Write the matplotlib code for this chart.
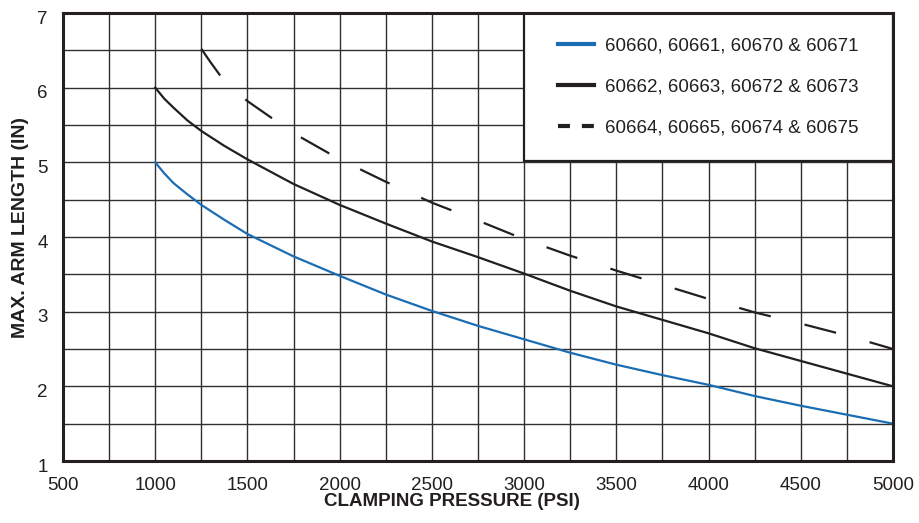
import matplotlib
matplotlib.use("Agg")
import matplotlib.pyplot as plt
import matplotlib.transforms as mtransforms
from matplotlib.lines import Line2D
from matplotlib.patches import Rectangle

plt.rcParams['font.family'] = ['Liberation Sans', 'DejaVu Sans']
plt.rcParams['lines.scale_dashes'] = False

# Data
blue_x = [1000, 1050, 1100, 1175, 1250, 1375, 1500, 1750, 2000, 2250, 2500, 2750, 3000, 3250, 3500, 3750, 4000, 4250, 4500, 4750, 5000]
blue_y = [5.00, 4.85, 4.72, 4.57, 4.43, 4.23, 4.04, 3.74, 3.48, 3.23, 3.01, 2.81, 2.63, 2.45, 2.29, 2.15, 2.02, 1.87, 1.74, 1.62, 1.50]

black_x = [1000, 1050, 1100, 1175, 1250, 1375, 1500, 1750, 2000, 2250, 2500, 2750, 3000, 3250, 3500, 3750, 4000, 4250, 4500, 4750, 5000]
black_y = [6.00, 5.85, 5.73, 5.56, 5.42, 5.22, 5.04, 4.71, 4.43, 4.18, 3.94, 3.73, 3.51, 3.28, 3.07, 2.89, 2.71, 2.51, 2.34, 2.17, 2.00]

dash_x = [1250, 1300, 1350, 1425, 1500, 1750, 2000, 2250, 2500, 2750, 3000, 3250, 3500, 3750, 4000, 4250, 4500, 4750, 5000]
dash_y = [6.52, 6.34, 6.17, 5.98, 5.82, 5.39, 5.04, 4.74, 4.46, 4.22, 3.97, 3.75, 3.55, 3.36, 3.17, 2.99, 2.84, 2.68, 2.50]

labels = ["60660, 60661, 60670 & 60671",
          "60662, 60663, 60672 & 60673",
          "60664, 60665, 60674 & 60675"]

x_ticks = [500, 1000, 1500, 2000, 2500, 3000, 3500, 4000, 4500, 5000]
y_ticks = [1, 2, 3, 4, 5, 6, 7]
x_label = "CLAMPING PRESSURE (PSI)"
y_label = "MAX. ARM LENGTH (IN)"

BLUE = '#1b6db3'
BLACK = '#231f20'
GRID = '#303030'
FS = 13.5

fig = plt.figure(figsize=(9.2, 5.23), dpi=100)
ax = fig.add_axes([63/920, 62/523, 830/920, 448/523])

ax.set_xlim(500, 5000)
ax.set_ylim(1, 7)

# grid every 250 psi and 0.5 in
ax.set_xticks(x_ticks)
ax.set_yticks(y_ticks)
ax.set_xticks([v + 250 for v in x_ticks[:-1]], minor=True)
ax.set_yticks([v + 0.5 for v in y_ticks[:-1]], minor=True)
ax.grid(True, which='both', color=GRID, linewidth=1.0, zorder=1)
ax.set_axisbelow(True)
ax.tick_params(which='both', length=0)
ax.tick_params(axis='x', pad=11.5, labelsize=FS, colors='#231f20')
ax.tick_params(axis='y', pad=11, labelsize=FS, colors='#231f20')

offset = mtransforms.ScaledTranslation(0, -4/100, fig.dpi_scale_trans)
for lab in ax.get_yticklabels():
    lab.set_transform(lab.get_transform() + offset)

for s in ax.spines.values():
    s.set_linewidth(2.2)
    s.set_color(BLACK)
    s.set_zorder(5)

ax.plot(blue_x, blue_y, color=BLUE, lw=1.6, zorder=3)
ax.plot(black_x, black_y, color=BLACK, lw=1.6, zorder=3)
ax.plot(dash_x, dash_y, color=BLACK, lw=1.6, zorder=3, dashes=(23.5, 25))

# legend box
rect = Rectangle((461/830, 300/448), 1 - 461/830, 1 - 300/448, transform=ax.transAxes,
                 facecolor='white', edgecolor=BLACK, linewidth=1.6, zorder=4)
ax.add_patch(rect)
handles = [Line2D([], [], color=BLUE, lw=3),
           Line2D([], [], color=BLACK, lw=3),
           Line2D([], [], color=BLACK, lw=3, dashes=(8.6, 8.6))]
leg = ax.legend(handles, labels, loc='center',
                bbox_to_anchor=((461/830 + 1) / 2, (300/448 + 1) / 2),
                bbox_transform=ax.transAxes, frameon=False, fontsize=FS,
                handlelength=1.93, handletextpad=0.6, labelspacing=1.27,
                borderpad=0, borderaxespad=0)
leg.set_zorder(6)
for t in leg.get_texts():
    t.set_color('#231f20')

ax.set_xlabel(x_label, fontsize=FS, fontweight='bold', color=BLACK)
ax.set_ylabel(y_label, fontsize=14, fontweight='bold', color=BLACK)
ax.xaxis.set_label_coords((452 - 63) / 830, (461 - 502) / 448)
ax.yaxis.set_label_coords((20.5 - 63) / 830, (461 - 227.5) / 448)
ax.xaxis.label.set_va('center')
ax.yaxis.label.set_va('center')

fig.savefig('out.png', dpi=100)
